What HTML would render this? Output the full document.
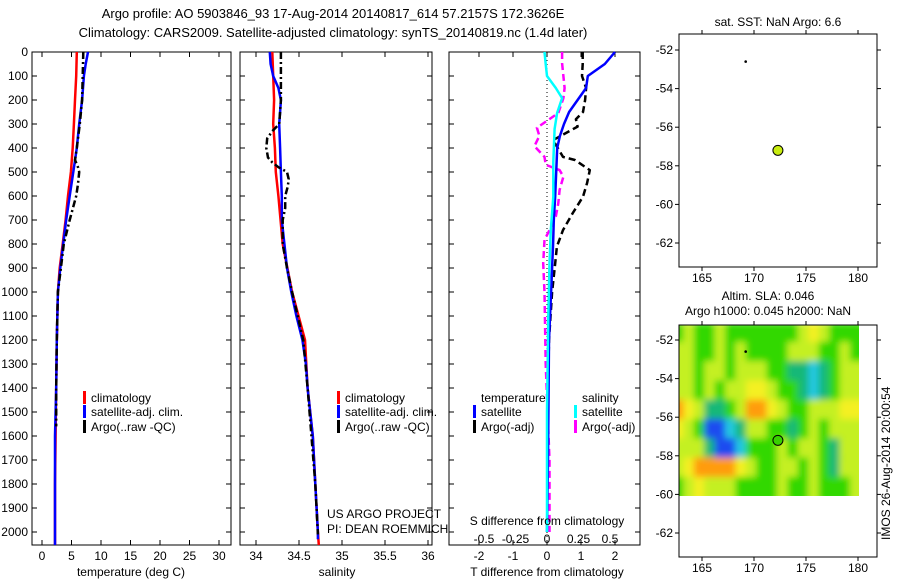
<!DOCTYPE html>
<html><head><meta charset="utf-8"><style>
body{margin:0;background:#fff}
svg{display:block;font-family:"Liberation Sans",sans-serif;font-size:12px}
</style></head><body>
<svg id="c" width="900" height="580" xmlns="http://www.w3.org/2000/svg">
<defs>
<clipPath id="hc"><rect x="679" y="325" width="180" height="171"/></clipPath>
<filter id="bl" filterUnits="userSpaceOnUse" x="660" y="300" width="230" height="220"><feGaussianBlur stdDeviation="3.5"/></filter>
</defs>
<text x="333" y="18" text-anchor="middle" font-size="13">Argo profile: AO 5903846_93 17-Aug-2014 20140817_614 57.2157S 172.3626E</text>
<text x="333" y="37" text-anchor="middle" font-size="13">Climatology: CARS2009. Satellite-adjusted climatology: synTS_20140819.nc (1.4d later)</text>
<g id="g"></g>
</svg>
<script>
// depth axis (shared)
const depthTicks=[0,100,200,300,400,500,600,700,800,900,1000,1100,1200,1300,1400,1500,1600,1700,1800,1900,2000];
// temperature panel
const tempTicks=[0,5,10,15,20,25,30];
const tClimD=[0,100,200,300,400,500,600,700,800,900,1000,1200,1400,1600,1800,2000,2054];
const tClimV=[5.9,5.8,5.6,5.4,5.2,4.9,4.4,4.0,3.5,3.0,2.7,2.5,2.4,2.3,2.2,2.2,2.2];
const tSatD=[0,50,100,200,300,400,500,600,700,800,900,1000,1200,1400,1600,1800,2000,2054];
const tSatV=[7.8,7.4,7.1,6.8,6.3,5.9,5.3,4.7,4.1,3.6,3.1,2.7,2.5,2.4,2.2,2.2,2.2,2.2];
const tArgoD=[0,100,200,300,400,450,480,500,550,600,700,800,900,1000,1200,1400,1560];
const tArgoV=[7.0,6.9,6.8,6.4,5.9,5.6,6.1,6.3,6.1,5.8,4.7,3.7,3.2,2.7,2.5,2.4,2.4];
// salinity panel
const salTicks=[34,34.5,35,35.5,36];
const sClimD=[0,100,200,300,400,500,600,800,1000,1200,1400,1600,1800,2000,2054];
const sClimV=[34.19,34.2,34.21,34.2,34.22,34.23,34.26,34.31,34.42,34.57,34.6,34.66,34.69,34.72,34.73];
const sSatD=[0,50,100,150,200,250,300,400,500,600,700,800,900,1000,1100,1200,1300,1400,1600,1800,2000,2030];
const sSatV=[34.16,34.17,34.2,34.26,34.29,34.28,34.27,34.28,34.29,34.3,34.3,34.33,34.36,34.41,34.47,34.54,34.58,34.6,34.66,34.69,34.72,34.72];
const sArgoD=[0,100,200,250,300,330,360,400,440,460,480,500,530,560,600,650,700,800,900,1000,1200,1400,1800,2010];
const sArgoV=[34.29,34.29,34.29,34.28,34.27,34.19,34.13,34.12,34.14,34.19,34.26,34.36,34.38,34.37,34.34,34.34,34.31,34.31,34.36,34.42,34.55,34.6,34.69,34.72];
// difference panel
const tDiffTicks=[-2,-1,0,1,2];
const sDiffTicks=[-0.5,-0.25,0,0.25,0.5];
const dTSatD=[0,50,100,150,200,250,300,350,400,500,600,700,800,900,1000,1200,1700,2000];
const dTSatV=[2.0,1.7,1.2,1.15,0.9,0.65,0.5,0.38,0.3,0.27,0.24,0.2,0.18,0.15,0.12,0.06,0.03,0.0];
const dTArgoD=[0,50,100,150,200,250,280,311,367,437,450,492,546,603,671,742,811,880,1000,1200,1400];
const dTArgoV=[1.05,1.05,1.03,1.15,1.12,1.06,0.85,0.9,0.18,0.47,0.82,1.26,1.18,1.06,0.76,0.47,0.29,0.24,0.15,0.06,0.03];
const dSSatD=[0,50,100,150,192,254,321,459,603,742,880,1100,1500,2000];
const dSSatV=[-0.02,-0.01,0,0.07,0.12,0.08,0.06,0.05,0.05,0.03,0.02,0.01,0,0];
const dSArgoD=[0,47,150,192,254,316,350,392,437,470,492,519,575,630,686,742,783,880,1000,1300,1700,2000];
const dSArgoV=[0.12,0.12,0.14,0.13,0.09,-0.08,-0.06,-0.1,-0.02,-0.01,0.1,0.13,0.1,0.09,0.07,0.02,-0.02,-0.03,-0.02,-0.01,0.02,0.02];
// map panels
const latTicks=[-52,-54,-56,-58,-60,-62];
const lonTicks=[165,170,175,180];
const argoPos=[172.3,-57.2];
const prevPos=[169.2,-52.6];
// SLA grid (rows lat -51.25.. by 1deg, cols lon 162.5.. by 1deg), level units
const slaGrid=[
[0,1,0,0,1,0,0,0,0,0,0,0,1,2,1,0,0,0],
[1,1,0,0,1,0,1,0,0,0,0,1,1,1,0,0,1,0],
[1,1,0,1,1,0,1,1,1,0,0,-1,-1,-2,-1,0,1,1],
[1,1,0,1,0,1,1,2,2,1,0,0,-1,-2,-1,0,1,1],
[3,2,1,-1,-1,0,1,3,3,2,1,0,0,1,1,1,2,2],
[2,1,0,-3,-3,-2,-1,1,1,0,0,-1,0,1,0,1,1,1],
[1,1,1,-1,-3,-3,-2,0,0,0,1,0,1,1,0,-1,1,1],
[1,2,3,3,3,3,2,1,0,0,1,1,0,1,0,-1,1,1],
[0,1,2,1,1,1,0,0,0,0,1,0,0,1,0,0,0,1]];
const slaColors={"-3":"#1f4cf0","-2":"#20c8e0","-1":"#18b878","0":"#30d800","1":"#c4f020","2":"#f4f020","3":"#ff9c10"};

const NS="http://www.w3.org/2000/svg", G=document.getElementById('g');
function el(t,a,txt){const e=document.createElementNS(NS,t);for(const k in a)e.setAttribute(k,a[k]);if(txt!==undefined)e.textContent=txt;G.appendChild(e);return e;}
const Y=d=>52+d*0.24;
const P1={x0:32,x1:231}, P2={x0:240,x1:432}, P3={x0:449,x1:640};
const xT=v=>42+v*5.9, xS=v=>256+(v-34)*86, xDT=v=>547+v*34, xDS=v=>547+v*126;

function frame(p,name){
  const r=el('rect',{x:p.x0,y:52,width:p.x1-p.x0,height:493,fill:'none',stroke:'#000','stroke-width':1});
  
  
  depthTicks.forEach(d=>{
    const t1=el('line',{x1:p.x0,x2:p.x0+5,y1:Y(d),y2:Y(d),stroke:'#000'});
    
    
    const t2=el('line',{x1:p.x1,x2:p.x1-5,y1:Y(d),y2:Y(d),stroke:'#000'});
    
    
  });
}
function xticks(ticks,fx,labels,name){
  ticks.forEach(v=>{
    const x=fx(v);
    const a=el('line',{x1:x,x2:x,y1:545,y2:540,stroke:'#000'});
    
    
    const b=el('line',{x1:x,x2:x,y1:52,y2:57,stroke:'#000'});
    
    
    if(labels){const t=el('text',{x:x,y:560,'text-anchor':'middle'},String(v));
    
    }
  });
}
function line(D,V,fx,col,dash,name){
  const pts=D.map((d,i)=>fx(V[i]).toFixed(1)+','+Y(d).toFixed(1)).join(' ');
  const a={points:pts,fill:'none',stroke:col,'stroke-width':2.5,'stroke-linejoin':'round'};
  if(dash)a['stroke-dasharray']=dash;
  const p=el('polyline',a);
  
  
}
function txt(x,y,s,name,extra){const t=el('text',Object.assign({x:x,y:y},extra||{}),s);
  
  return t;}
function mark(x,y,col,name){const r=el('rect',{x:x,y:y-11,width:3,height:13,fill:col});
  
  }

// panel 1
frame(P1,'temperature-panel');
depthTicks.forEach(d=>txt(28,Y(d)+4,String(d),'depth-tick-label',{'text-anchor':'end'}));
xticks(tempTicks,xT,true,'temperature');
line(tClimD,tClimV,xT,'#f00',null,'temp-climatology-line');
line(tSatD,tSatV,xT,'#00f',null,'temp-satellite-line');
line(tArgoD,tArgoV,xT,'#000','7,3,2,3','temp-argo-line');
txt(131,576,'temperature (deg C)','temperature-axis-title',{'text-anchor':'middle'});
mark(83,402,'#f00','legend-climatology-marker');txt(91,402,'climatology','legend-climatology');
mark(83,416,'#00f','legend-satellite-marker');txt(91,416,'satellite-adj. clim.','legend-satellite');
mark(83,431,'#000','legend-argo-marker');txt(91,431,'Argo(..raw -QC)','legend-argo');

// panel 2
frame(P2,'salinity-panel');
xticks(salTicks,xS,true,'salinity');
line(sClimD,sClimV,xS,'#f00',null,'sal-climatology-line');
line(sSatD,sSatV,xS,'#00f',null,'sal-satellite-line');
line(sArgoD,sArgoV,xS,'#000','7,3,2,3','sal-argo-line');
txt(337,576,'salinity','salinity-axis-title',{'text-anchor':'middle'});
mark(337,402,'#f00','legend2-climatology-marker');txt(345,402,'climatology','legend2-climatology');
mark(337,416,'#00f','legend2-satellite-marker');txt(345,416,'satellite-adj. clim.','legend2-satellite');
mark(337,431,'#000','legend2-argo-marker');txt(345,431,'Argo(..raw -QC)','legend2-argo');
txt(327,518,'US ARGO PROJECT','project-label');
txt(327,533,'PI: DEAN ROEMMICH','pi-label');

// panel 3
frame(P3,'difference-panel');
xticks(tDiffTicks,xDT,true,'tdiff');
const z=el('line',{x1:547,x2:547,y1:52,y2:545,stroke:'#000','stroke-dasharray':'1,3'});


line(dTArgoD,dTArgoV,xDT,'#000','7,4','tdiff-argo-line');
line(dSArgoD,dSArgoV,xDS,'#f0f','7,4','sdiff-argo-line');
line(dTSatD,dTSatV,xDT,'#00f',null,'tdiff-satellite-line');
line(dSSatD,dSSatV,xDS,'#0ff',null,'sdiff-satellite-line');
sDiffTicks.forEach(v=>txt(xDS(v),543,String(v),'sdiff-tick-label',{'text-anchor':'middle'}));
txt(547,525,'S difference from climatology','sdiff-axis-title',{'text-anchor':'middle'});
txt(547,576,'T difference from climatology','tdiff-axis-title',{'text-anchor':'middle'});
txt(481,402,'temperature','legend3-temperature-head');txt(582,402,'salinity','legend3-salinity-head');
mark(473,416,'#00f','legend3-tsat-marker');txt(481,416,'satellite','legend3-tsat');
mark(473,431,'#000','legend3-targo-marker');txt(481,431,'Argo(-adj)','legend3-targo');
mark(574,416,'#0ff','legend3-ssat-marker');txt(582,416,'satellite','legend3-ssat');
mark(574,431,'#f0f','legend3-sargo-marker');txt(582,431,'Argo(-adj)','legend3-sargo');

// maps
function mapPanel(top,bot,lat0y){
  const lx=v=>702+(v-165)*10.4, ly=v=>lat0y+(-52-v)*19.3;
  return {lx,ly};
}
function mapFrame(top,bot,lat0y,name){
  const m=mapPanel(top,bot,lat0y);
  const r=el('rect',{x:679,y:top,width:198,height:bot-top,fill:'none',stroke:'#000'});
  
  
  latTicks.forEach(v=>{const y=m.ly(v);
    const a=el('line',{x1:679,x2:675,y1:y,y2:y,stroke:'#000'});
    
    
    const b=el('line',{x1:877,x2:881,y1:y,y2:y,stroke:'#000'});
    
    
    txt(673,y+4,String(v),'lat-tick-label',{'text-anchor':'end'});});
  lonTicks.forEach(v=>{const x=m.lx(v);
    const a=el('line',{x1:x,x2:x,y1:bot,y2:bot+4,stroke:'#000'});
    
    
    const b=el('line',{x1:x,x2:x,y1:top,y2:top-4,stroke:'#000'});
    
    
    txt(x,bot+15,String(v),'lon-tick-label',{'text-anchor':'middle'});});
  return m;
}
txt(778,26,'sat. SST: NaN Argo: 6.6','sst-map-title',{'text-anchor':'middle'});
const m1=mapFrame(34,267,50,'sst-map');
let d=el('circle',{cx:m1.lx(prevPos[0]),cy:m1.ly(prevPos[1]),r:1.3,fill:'#000'});


d=el('circle',{cx:m1.lx(argoPos[0]),cy:m1.ly(argoPos[1]),r:5,fill:'#c8ec10',stroke:'#000'});



txt(768,300,'Altim. SLA: 0.046','sla-map-title',{'text-anchor':'middle'});
txt(768,315,'Argo h1000: 0.045 h2000: NaN','sla-map-subtitle',{'text-anchor':'middle'});
// heatmap
const hg=el('g',{'clip-path':'url(#hc)'});
const hi=document.createElementNS(NS,'g');hi.setAttribute('filter','url(#bl)');hg.appendChild(hi);
const m2=mapPanel(325,557,340);
slaGrid.forEach((row,i)=>row.forEach((v,j)=>{
  const lon=162.5+j, lat=-51.25-i;
  const r=document.createElementNS(NS,'rect');
  const x=m2.lx(lon), y=m2.ly(lat);
  r.setAttribute('x',x-3);r.setAttribute('y',y-3);
  r.setAttribute('width',m2.lx(lon+1)-x+6);r.setAttribute('height',m2.ly(lat-1)-y+6);
  r.setAttribute('fill',slaColors[String(v)]);
  
  
  hi.appendChild(r);
}));


mapFrame(325,557,340,'sla-map');
d=el('circle',{cx:m2.lx(prevPos[0]),cy:m2.ly(prevPos[1]),r:1.3,fill:'#000'});


d=el('circle',{cx:m2.lx(argoPos[0]),cy:m2.ly(argoPos[1]),r:5,fill:'#38d000',stroke:'#000'});


txt(0,0,'IMOS 26-Aug-2014 20:00:54','imos-timestamp',{transform:'translate(890,540) rotate(-90)'});
</script>
</body></html>
